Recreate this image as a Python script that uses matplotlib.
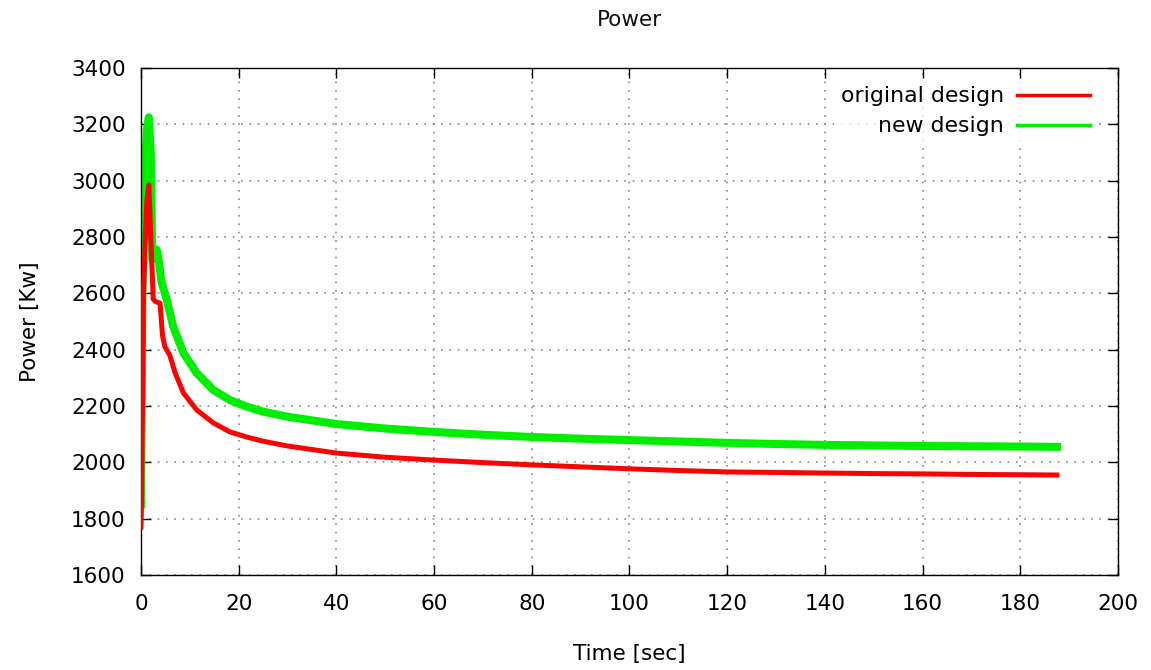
import matplotlib
matplotlib.use("Agg")
import matplotlib.pyplot as plt
from matplotlib.ticker import MultipleLocator

# ---- data ----
t_orig = [0, 0.1, 0.5, 0.9, 1.2, 1.6, 2.0, 2.5, 3.0, 3.9, 4.4, 4.9, 5.9, 7.0,
          8.7, 11.4, 14.8, 18.2, 21.6, 25, 30, 40, 50, 60, 70, 80, 90, 100,
          110, 120, 130, 140, 150, 160, 170, 180, 187.5]
p_orig = [1770, 1850, 2600, 2800, 2930, 2985, 2800, 2580, 2570, 2565, 2450,
          2410, 2380, 2317, 2246, 2186, 2140, 2108, 2090, 2075, 2058, 2033,
          2018, 2008, 1999, 1991, 1984, 1977, 1971, 1966, 1964, 1962, 1960,
          1959, 1957, 1956, 1955]

t_new = [0, 0.3, 0.8, 1.2, 1.6, 2.0, 2.3, 2.8, 3.2, 3.6, 4.2, 5.3, 6.6, 8.7,
         11.4, 14.8, 18.2, 21.6, 25, 30, 40, 50, 60, 70, 80, 90, 100, 110,
         120, 130, 140, 150, 160, 170, 180, 187.5]
p_new = [1850, 2600, 3050, 3180, 3225, 3100, 2720, 2740, 2755, 2720, 2640,
         2576, 2482, 2388, 2317, 2257, 2221, 2198, 2180, 2162, 2136, 2120,
         2108, 2098, 2090, 2084, 2079, 2074, 2069, 2065, 2062, 2060, 2058,
         2057, 2056, 2055]

labels = ["original design", "new design"]
title = "Power"
xlabel = "Time [sec]"
ylabel = "Power [Kw]"

FS = 15.5
plt.rcParams['font.family'] = ['DejaVu Sans']
fig = plt.figure(figsize=(11.51, 6.70), dpi=100)
ax = fig.add_axes([0.1225, 0.1418, 0.9713 - 0.1225, 0.8985 - 0.1418])

ax.plot(t_orig, p_orig, color='#ff0000', lw=3.6, label=labels[0],
        solid_joinstyle='round', zorder=3)
ax.plot(t_new, p_new, color='#00ee00', lw=5.8, label=labels[1],
        solid_joinstyle='round', zorder=2)

ax.set_xlim(0, 200)
ax.set_ylim(1600, 3400)
ax.xaxis.set_major_locator(MultipleLocator(20))
ax.yaxis.set_major_locator(MultipleLocator(200))
ax.grid(True, color='#888888', linestyle=(0, (1, 4)), linewidth=1.2, zorder=0)
ax.tick_params(direction='in', length=7, width=1, top=True, right=True,
               labelsize=FS, colors='black')
ax.tick_params(axis='x', pad=14)
ax.tick_params(axis='y', pad=11)
for s in ax.spines.values():
    s.set_linewidth(1.0)

ax.set_title(title, fontsize=FS, pad=30, color='#111111')
ax.set_xlabel(xlabel, fontsize=FS, labelpad=21)
ax.set_ylabel(ylabel, fontsize=FS, labelpad=22)

leg = ax.legend(loc='upper right', bbox_to_anchor=(0.9857, 0.992),
                markerfirst=False, frameon=True,
                fontsize=FS + 0.3, handlelength=3.3, handletextpad=0.6,
                borderpad=0.3, borderaxespad=0.35, labelspacing=0.45,
                fancybox=False)
leg.get_frame().set_facecolor('white')
leg.get_frame().set_edgecolor('none')
for line in leg.get_lines():
    line.set_linewidth(2.5)
for txt in leg.get_texts():
    txt.set_ha('right')

fig.savefig("out.png", dpi=100)
